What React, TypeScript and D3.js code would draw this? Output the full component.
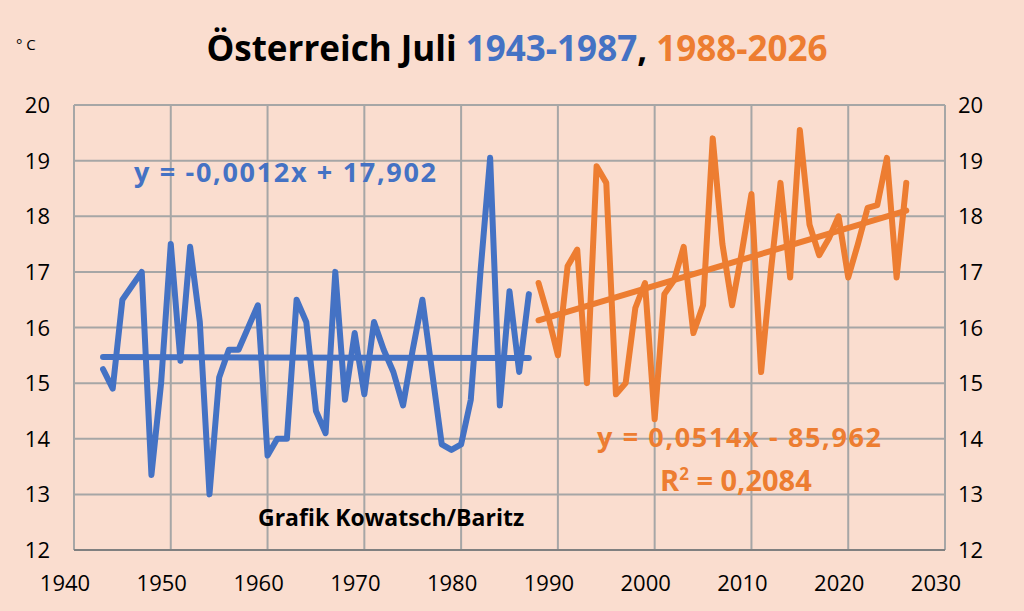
import React from "react";
import * as d3 from "d3";

const blueYears = d3.range(1943, 1988);
const blueValues = [15.25,14.9,16.5,16.75,17.0,13.35,15.0,17.5,15.4,17.45,16.1,13.0,15.1,15.6,15.6,16.0,16.4,13.7,14.0,14.0,16.5,16.1,14.5,14.1,17.0,14.7,15.9,14.8,16.1,15.6,15.2,14.6,15.6,16.5,15.2,13.9,13.8,13.9,14.7,17.0,19.05,14.6,16.65,15.2,16.6];
const orangeYears = d3.range(1988, 2027);
const orangeValues = [16.8,16.2,15.5,17.1,17.4,15.0,18.9,18.6,14.8,15.0,16.35,16.8,14.35,16.6,16.85,17.45,15.9,16.4,19.4,17.5,16.4,17.35,18.4,15.2,17.0,18.6,16.9,19.55,17.85,17.3,17.6,18.0,16.9,17.5,18.15,18.2,19.05,16.9,18.6];
const xTicks = d3.range(1940, 2031, 10);
const yTicks = d3.range(12, 21, 1);
const blueTrendYears = [1943, 1987];
const blueTrendValues = [15.47, 15.45];
const orangeTrendYears = [1988, 2026];
const orangeTrendValues = [16.13, 18.1];

const BLUE = "#4472C4";
const ORANGE = "#ED7D31";
const FONT = "'Open Sans', Lato, sans-serif";

export default function App() {
  const W = 1024, H = 611;
  const x = d3.scaleLinear().domain([1940, 2030]).range([74, 945]);
  const y = d3.scaleLinear().domain([12, 20]).range([550, 105]);
  const line = d3.line<[number, number]>().x(d => x(d[0])).y(d => y(d[1]));
  const blueData = blueYears.map((yr, i) => [yr, blueValues[i]] as [number, number]);
  const orangeData = orangeYears.map((yr, i) => [yr, orangeValues[i]] as [number, number]);
  const blueT = blueTrendYears.map((yr, i) => [yr, blueTrendValues[i]] as [number, number]);
  const orangeT = orangeTrendYears.map((yr, i) => [yr, orangeTrendValues[i]] as [number, number]);
  return (
    <svg width={W} height={H} style={{ position: "absolute", left: 0, top: 0, background: "#FADDCF" }} fontFamily={FONT}>
      <rect x={0} y={0} width={W} height={H} fill="#FADDCF" />
      {yTicks.map(t => (
        <line key={"gy" + t} x1={x(1940)} x2={x(2030)} y1={y(t)} y2={y(t)} stroke="#A6A6A6" strokeWidth={2} />
      ))}
      {xTicks.map(t => (
        <line key={"gx" + t} x1={x(t)} x2={x(t)} y1={y(12)} y2={y(20)} stroke="#A6A6A6" strokeWidth={2} />
      ))}
      <line x1={x(1940)} x2={x(2030)} y1={y(12)} y2={y(12)} stroke="#808080" strokeWidth={2} />
      {yTicks.map(t => (
        <text key={"yl" + t} x={50} y={y(t) + 8} textAnchor="end" fontSize={22} fill="#000">{t}</text>
      ))}
      {yTicks.map(t => (
        <text key={"yr" + t} x={958} y={y(t) + 8} textAnchor="start" fontSize={22} fill="#000">{t}</text>
      ))}
      {xTicks.map(t => (
        <text key={"xl" + t} x={x(t) - 9} y={591} textAnchor="middle" fontSize={22} fill="#000">{t}</text>
      ))}
      <text x={16} y={50} fontSize={15} fill="#000">° C</text>
      <text x={517} y={61} textAnchor="middle" fontSize={35} fontWeight="bold">
        <tspan fill="#000">Österreich Juli </tspan>
        <tspan fill={BLUE}>1943-1987</tspan>
        <tspan fill="#000">, </tspan>
        <tspan fill={ORANGE}>1988-2026</tspan>
      </text>
      <path d={line(blueData) as string} fill="none" stroke={BLUE} strokeWidth={6} strokeLinejoin="round" strokeLinecap="round" />
      <path d={line(orangeData) as string} fill="none" stroke={ORANGE} strokeWidth={6} strokeLinejoin="round" strokeLinecap="round" />
      <path d={line(blueT) as string} stroke={BLUE} strokeWidth={6} strokeLinecap="round" />
      <path d={line(orangeT) as string} stroke={ORANGE} strokeWidth={6} strokeLinecap="round" />
      <text x={134} y={182} fontSize={27} fontWeight="bold" fill={BLUE} textLength={302}>y = -0,0012x + 17,902</text>
      <text x={597} y={447} fontSize={27} fontWeight="bold" fill={ORANGE} textLength={284}>y = 0,0514x - 85,962</text>
      <text x={660} y={491} fontSize={29} fontWeight="bold" fill={ORANGE}>R<tspan dy={-11} fontSize={17}>2</tspan><tspan dy={11}> = 0,2084</tspan></text>
      <text x={258} y={526} fontSize={23} fontWeight="bold" fill="#000">Grafik Kowatsch/Baritz</text>
    </svg>
  );
}
